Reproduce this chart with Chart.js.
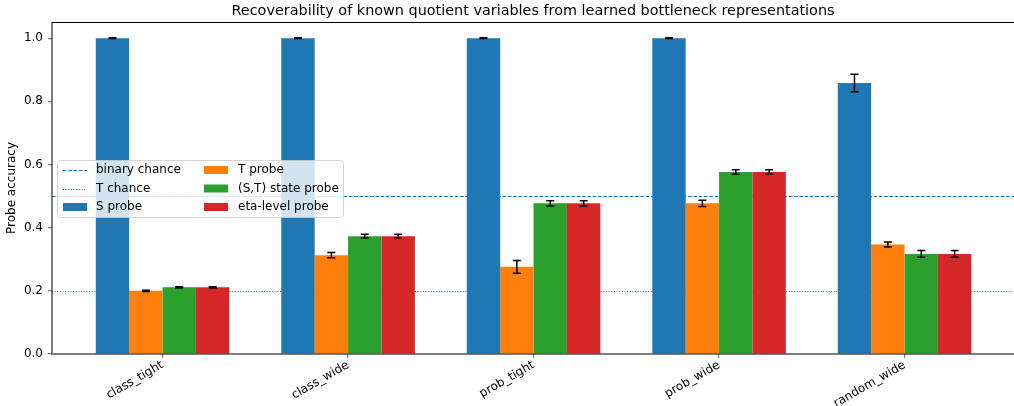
<!DOCTYPE html>
<html>
<head>
<meta charset="utf-8">
<script src="https://cdn.jsdelivr.net/npm/chart.js@4.4.1/dist/chart.umd.min.js"></script>
<style>
html, body { margin: 0; padding: 0; background: #fff; overflow: hidden; }
#wrap { width: 1014px; height: 406px; }
</style>
</head>
<body>
<div id="wrap"><canvas id="chart" width="1014" height="406"></canvas></div>
<script>
// data
const categories = ['class_tight', 'class_wide', 'prob_tight', 'prob_wide', 'random_wide'];
const sProbe   = [1.000, 1.000, 1.000, 1.000, 0.858];
const sErr     = [0.001, 0.001, 0.001, 0.001, 0.028];
const tProbe   = [0.200, 0.313, 0.276, 0.477, 0.347];
const tErr     = [0.002, 0.008, 0.020, 0.010, 0.008];
const stProbe  = [0.211, 0.373, 0.477, 0.576, 0.317];
const stErr    = [0.002, 0.006, 0.008, 0.007, 0.011];
const etaProbe = [0.211, 0.373, 0.477, 0.576, 0.317];
const etaErr   = [0.002, 0.006, 0.008, 0.007, 0.011];
const binaryChance = 0.5;
const tChance = 0.2;
const yTicks = [0.0, 0.2, 0.4, 0.6, 0.8, 1.0];

const TITLE = 'Recoverability of known quotient variables from learned bottleneck representations';
const FONT = '"DejaVu Sans", sans-serif';
const COLORS = { s: '#1f77b4', t: '#ff7f0e', st: '#2ca02c', eta: '#d62728' };
const SPINE = 'rgba(0,0,0,0.5)';

function toPoints(arr) {
    return arr.map((v, i) => ({ x: i, y: v }));
}

const datasets = [
    { label: 'S probe', data: toPoints(sProbe), err: sErr, backgroundColor: COLORS.s },
    { label: 'T probe', data: toPoints(tProbe), err: tErr, backgroundColor: COLORS.t },
    { label: '(S,T) state probe', data: toPoints(stProbe), err: stErr, backgroundColor: COLORS.st },
    { label: 'eta-level probe', data: toPoints(etaProbe), err: etaErr, backgroundColor: COLORS.eta }
];

// chance lines, behind the bars
const chanceLines = {
    id: 'chanceLines',
    beforeDatasetsDraw(chart) {
        const { ctx, chartArea, scales } = chart;
        ctx.save();
        ctx.lineWidth = 1;
        ctx.strokeStyle = COLORS.s;
        [[binaryChance, [3.7, 1.6]], [tChance, [1, 1.65]]].forEach(([v, dash]) => {
            const y = Math.round(scales.y.getPixelForValue(v)) + 0.5;
            ctx.setLineDash(dash);
            ctx.beginPath();
            ctx.moveTo(chartArea.left, y);
            ctx.lineTo(chartArea.right, y);
            ctx.stroke();
        });
        ctx.restore();
    }
};

// error bars + spines
const errorBars = {
    id: 'errorBars',
    afterDatasetsDraw(chart) {
        const { ctx, chartArea, scales } = chart;
        ctx.save();
        ctx.strokeStyle = '#000';
        ctx.lineWidth = 1.5;
        chart.data.datasets.forEach((ds, di) => {
            const meta = chart.getDatasetMeta(di);
            meta.data.forEach((bar, i) => {
                const v = ds.data[i].y, e = ds.err[i];
                const yt = scales.y.getPixelForValue(v + e);
                const yb = scales.y.getPixelForValue(v - e);
                ctx.beginPath();
                ctx.moveTo(bar.x, yt);
                ctx.lineTo(bar.x, yb);
                ctx.moveTo(bar.x - 4, yt);
                ctx.lineTo(bar.x + 4, yt);
                ctx.moveTo(bar.x - 4, yb);
                ctx.lineTo(bar.x + 4, yb);
                ctx.stroke();
            });
        });
        // spines
        ctx.lineWidth = 1.2;
        ctx.strokeStyle = '#000';
        ctx.beginPath();
        ctx.moveTo(chartArea.left, chartArea.top + 0.5);
        ctx.lineTo(chartArea.right, chartArea.top + 0.5);
        ctx.stroke();
        ctx.lineWidth = 2;
        ctx.strokeStyle = SPINE;
        ctx.beginPath();
        ctx.moveTo(chartArea.left, chartArea.top);
        ctx.lineTo(chartArea.left, chartArea.bottom);
        ctx.lineTo(chartArea.right, chartArea.bottom);
        ctx.stroke();
        ctx.restore();
    }
};

// title and legend drawn on top
const overlay = {
    id: 'overlay',
    afterDraw(chart) {
        const { ctx, chartArea } = chart;
        ctx.save();
        ctx.fillStyle = '#000';
        ctx.font = '14.4px ' + FONT;
        ctx.textAlign = 'center';
        ctx.textBaseline = 'middle';
        ctx.fillText(TITLE, (chartArea.left + chartArea.right) / 2, 11);

        // legend box
        const bx = 57.5, by = 160.5, bw = 286, bh = 57, r = 3;
        ctx.beginPath();
        ctx.moveTo(bx + r, by);
        ctx.arcTo(bx + bw, by, bx + bw, by + bh, r);
        ctx.arcTo(bx + bw, by + bh, bx, by + bh, r);
        ctx.arcTo(bx, by + bh, bx, by, r);
        ctx.arcTo(bx, by, bx + bw, by, r);
        ctx.closePath();
        ctx.fillStyle = 'rgba(255,255,255,0.8)';
        ctx.fill();
        ctx.strokeStyle = 'rgba(204,204,204,0.8)';
        ctx.lineWidth = 1;
        ctx.stroke();

        const rows = [170, 188.5, 207];
        const items = [
            { col: 0, row: 0, text: 'binary chance', kind: 'line', dash: [3.7, 1.6] },
            { col: 0, row: 1, text: 'T chance', kind: 'line', dash: [1, 1.65] },
            { col: 0, row: 2, text: 'S probe', kind: 'box', color: COLORS.s },
            { col: 1, row: 0, text: 'T probe', kind: 'box', color: COLORS.t },
            { col: 1, row: 1, text: '(S,T) state probe', kind: 'box', color: COLORS.st },
            { col: 1, row: 2, text: 'eta-level probe', kind: 'box', color: COLORS.eta }
        ];
        const hx = [63, 204], tx = [96, 238];
        ctx.font = '12px ' + FONT;
        ctx.textAlign = 'left';
        items.forEach(it => {
            const y = rows[it.row];
            const x = hx[it.col];
            if (it.kind === 'line') {
                ctx.strokeStyle = COLORS.s;
                ctx.lineWidth = 1;
                ctx.setLineDash(it.dash);
                ctx.beginPath();
                ctx.moveTo(x, Math.round(y) + 0.5);
                ctx.lineTo(x + 24, Math.round(y) + 0.5);
                ctx.stroke();
                ctx.setLineDash([]);
            } else {
                ctx.fillStyle = it.color;
                ctx.fillRect(x, y - 4, 24, 8);
            }
            ctx.fillStyle = '#000';
            ctx.fillText(it.text, tx[it.col], y);
        });
        ctx.restore();
    }
};

new Chart(document.getElementById('chart').getContext('2d'), {
    type: 'bar',
    data: { datasets: datasets },
    plugins: [chanceLines, errorBars, overlay],
    options: {
        responsive: false,
        animation: false,
        devicePixelRatio: 1,
        layout: { padding: { top: 22, left: 0, right: 0, bottom: 0 } },
        datasets: {
            bar: { categoryPercentage: 0.72, barPercentage: 1.0, borderWidth: 0 }
        },
        plugins: {
            legend: { display: false },
            title: { display: false },
            tooltip: { enabled: false }
        },
        scales: {
            x: {
                type: 'linear',
                offset: false,
                min: -0.596,
                max: 4.59,
                afterBuildTicks: scale => { scale.ticks = categories.map((c, i) => ({ value: i })); },
                afterFit: scale => { scale.height = 52; },
                grid: { offset: false, drawOnChartArea: false, drawTicks: true, tickLength: 4, color: SPINE, lineWidth: 1.2 },
                border: { display: false },
                ticks: {
                    callback: v => categories[v],
                    autoSkip: false,
                    maxRotation: 30,
                    minRotation: 30,
                    padding: 0,
                    color: '#000',
                    font: { family: FONT, size: 12 }
                }
            },
            y: {
                min: 0,
                max: 1.0512,
                afterBuildTicks: scale => { scale.ticks = yTicks.map(v => ({ value: v })); },
                afterFit: scale => { scale.width = 52; },
                grid: { drawOnChartArea: false, drawTicks: true, tickLength: 4, color: SPINE, lineWidth: 1.2 },
                border: { display: false },
                title: {
                    display: true,
                    text: 'Probe accuracy',
                    color: '#000',
                    padding: { top: 5, bottom: 0 },
                    font: { family: FONT, size: 12 }
                },
                ticks: {
                    callback: v => v.toFixed(1),
                    padding: 5,
                    color: '#000',
                    font: { family: FONT, size: 12 }
                }
            }
        }
    }
});
</script>
</body>
</html>
